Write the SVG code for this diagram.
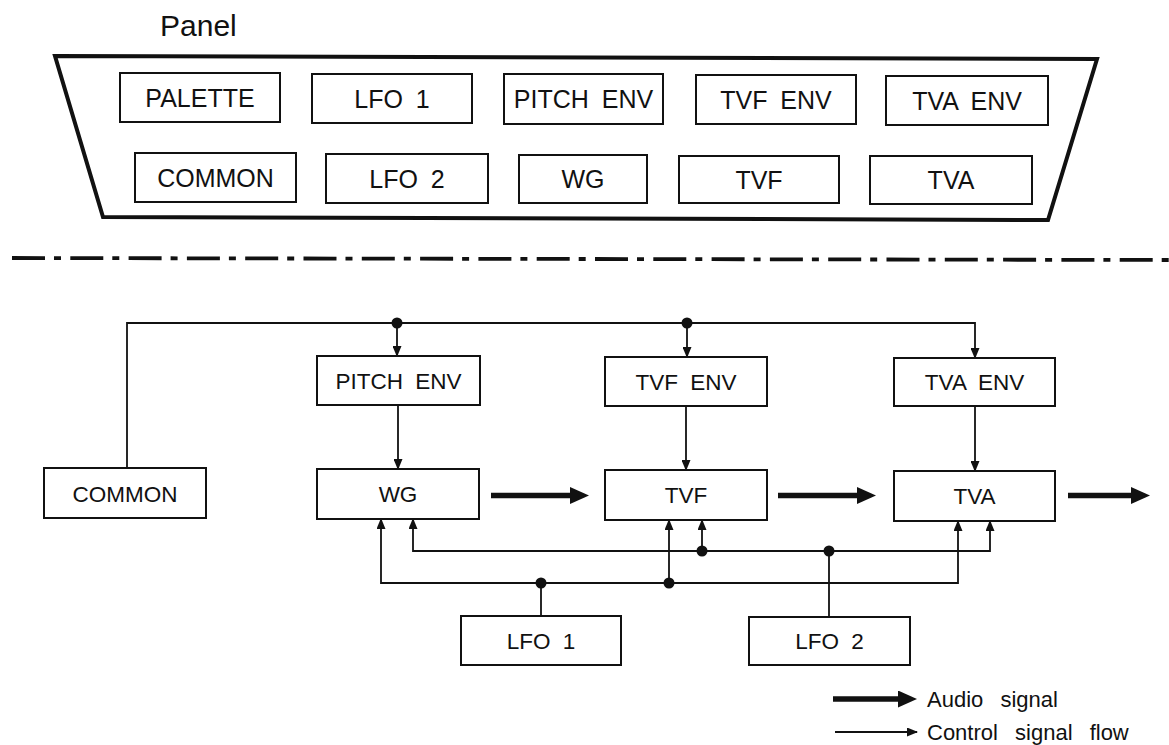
<svg xmlns="http://www.w3.org/2000/svg" width="1169" height="745" viewBox="0 0 1169 745">
<style>
  .bg { fill: #ffffff; }
  .box { fill: #ffffff; stroke: #111; stroke-width: 2; }
  .ptxt { font-family: "Liberation Sans", Arial, sans-serif; font-size: 25px; fill: #111; text-anchor: middle; white-space: pre; word-spacing: 6px; }
  .btxt { font-family: "Liberation Sans", Arial, sans-serif; font-size: 22.5px; fill: #111; text-anchor: middle; white-space: pre; word-spacing: 6px; }
  .ltxt { font-family: "Liberation Sans", Arial, sans-serif; font-size: 22px; fill: #111; white-space: pre; word-spacing: 11px; }
  .ctl { fill: none; stroke: #111; stroke-width: 1.8; }
  .ctla { fill: none; stroke: #111; stroke-width: 1.8; marker-end: url(#ah); }
  .aud { fill: none; stroke: #111; stroke-width: 5.5; marker-end: url(#big); }
  .dot { fill: #111; }
</style>
<defs>
  <marker id="ah" markerUnits="userSpaceOnUse" markerWidth="11" markerHeight="9" refX="10" refY="4.5" orient="auto">
    <path d="M0,0 L11,4.5 L0,9 z" fill="#111"/>
  </marker>
  <marker id="big" markerUnits="userSpaceOnUse" markerWidth="19" markerHeight="17" refX="1" refY="8.5" orient="auto">
    <path d="M0,0 L19,8.5 L0,17 z" fill="#111"/>
  </marker>
</defs>
<rect class="bg" x="0" y="0" width="1169" height="745"/>

<g id="panel">
  <text x="160" y="36" font-family="Liberation Sans, Arial, sans-serif" font-size="30" fill="#111">Panel</text>
  <polygon points="55,56 1097,59 1048,220 103,217" fill="none" stroke="#111" stroke-width="4" stroke-linejoin="miter"/>
  <g id="p-palette"><rect class="box" x="120" y="73" width="160" height="49"/><text class="ptxt" x="200" y="107">PALETTE</text></g>
  <g id="p-lfo1"><rect class="box" x="312" y="74" width="160" height="49"/><text class="ptxt" x="392" y="108">LFO 1</text></g>
  <g id="p-pitchenv"><rect class="box" x="504" y="74" width="159" height="50"/><text class="ptxt" x="583.5" y="108">PITCH ENV</text></g>
  <g id="p-tvfenv"><rect class="box" x="696" y="75" width="160" height="49"/><text class="ptxt" x="776" y="109">TVF ENV</text></g>
  <g id="p-tvaenv"><rect class="box" x="886" y="76" width="162" height="49"/><text class="ptxt" x="967" y="110">TVA ENV</text></g>
  <g id="p-common"><rect class="box" x="135" y="153" width="161" height="49"/><text class="ptxt" x="215.5" y="187">COMMON</text></g>
  <g id="p-lfo2"><rect class="box" x="326" y="154" width="162" height="49"/><text class="ptxt" x="407" y="188">LFO 2</text></g>
  <g id="p-wg"><rect class="box" x="519" y="155" width="128" height="48"/><text class="ptxt" x="583" y="188">WG</text></g>
  <g id="p-tvf"><rect class="box" x="679" y="156" width="160" height="47"/><text class="ptxt" x="759" y="188.5">TVF</text></g>
  <g id="p-tva"><rect class="box" x="870" y="156" width="162" height="48"/><text class="ptxt" x="951" y="189">TVA</text></g>
</g>

<line x1="12" y1="258" x2="1169" y2="260" stroke="#111" stroke-width="3.8" stroke-dasharray="33 9 7 9.3"/>

<g id="connectors">
  <path class="ctla" d="M127,468 V323 H975 V358"/>
  <path class="ctla" d="M397,323 V356"/>
  <path class="ctla" d="M687,323 V357"/>
  <path class="ctla" d="M398,405 V469"/>
  <path class="ctla" d="M686,406 V470"/>
  <path class="ctla" d="M975,406 V471"/>
  <path class="ctl" d="M541,616 V583"/>
  <path class="ctla" d="M541,583 H381 V519"/>
  <path class="ctla" d="M541,583 H958 V521"/>
  <path class="ctla" d="M669,583 V520"/>
  <path class="ctl" d="M829,617 V551"/>
  <path class="ctla" d="M829,551 H413 V519"/>
  <path class="ctla" d="M829,551 H990 V521"/>
  <path class="ctla" d="M702,551 V520"/>
  <circle class="dot" cx="397" cy="323" r="5.5"/>
  <circle class="dot" cx="687" cy="323" r="5.5"/>
  <circle class="dot" cx="541" cy="583" r="5.5"/>
  <circle class="dot" cx="669" cy="583" r="5.5"/>
  <circle class="dot" cx="702" cy="551" r="5.5"/>
  <circle class="dot" cx="829" cy="551" r="5.5"/>
  <path class="aud" d="M491,495.5 H571"/>
  <path class="aud" d="M778,495.5 H858"/>
  <path class="aud" d="M1068,495.5 H1132"/>
</g>

<g id="common"><rect class="box" x="44" y="468" width="162" height="50"/><text class="btxt" x="125" y="501.5">COMMON</text></g>
<g id="pitchenv"><rect class="box" x="317" y="356" width="163" height="49"/><text class="btxt" x="398.5" y="388.5">PITCH ENV</text></g>
<g id="wg"><rect class="box" x="317" y="469" width="162" height="50"/><text class="btxt" x="398" y="502">WG</text></g>
<g id="tvfenv"><rect class="box" x="605" y="357" width="162" height="49"/><text class="btxt" x="686" y="389.5">TVF ENV</text></g>
<g id="tvf"><rect class="box" x="605" y="470" width="162" height="50"/><text class="btxt" x="686" y="503">TVF</text></g>
<g id="tvaenv"><rect class="box" x="894" y="358" width="161" height="48"/><text class="btxt" x="974.5" y="390">TVA ENV</text></g>
<g id="tva"><rect class="box" x="894" y="471" width="161" height="50"/><text class="btxt" x="974.5" y="504">TVA</text></g>
<g id="lfo1"><rect class="box" x="461" y="616" width="160" height="49"/><text class="btxt" x="541" y="648.5">LFO 1</text></g>
<g id="lfo2"><rect class="box" x="749" y="617" width="161" height="48"/><text class="btxt" x="829.5" y="649">LFO 2</text></g>

<g id="legend">
  <path class="aud" d="M833,699 H899"/>
  <text class="ltxt" x="927" y="707">Audio signal</text>
  <path class="ctla" d="M835,732 H917"/>
  <text class="ltxt" x="927" y="740">Control signal flow</text>
</g>
</svg>
